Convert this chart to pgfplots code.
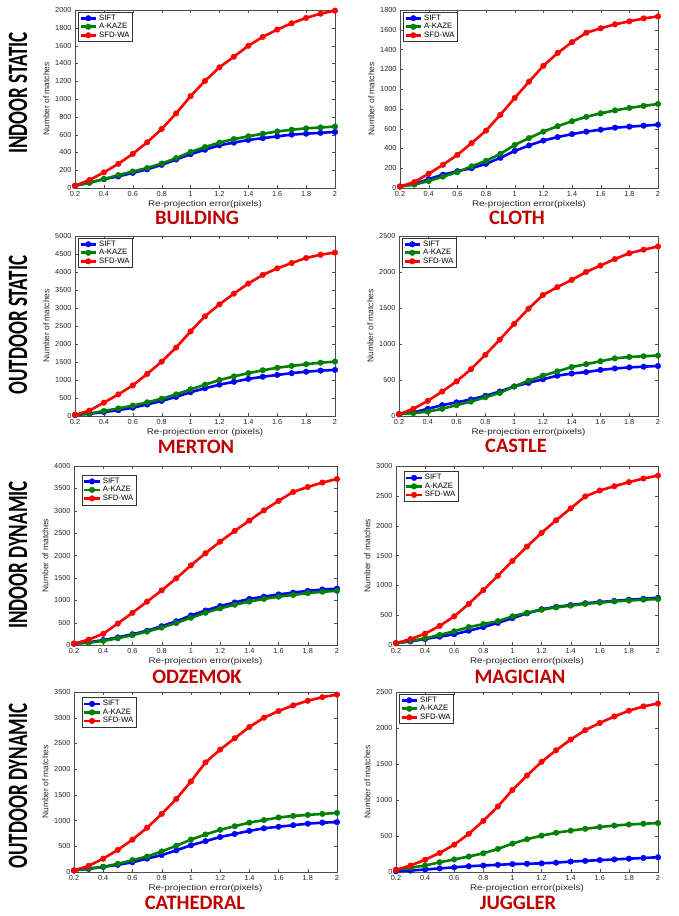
\documentclass[border=0pt]{standalone}
\usepackage{pgfplots}
\pgfplotsset{compat=1.18}
\usepackage{pgfplotstable}
\usepackage{fontspec}
\setmainfont{Liberation Sans}
\newfontfamily\titlefont{Carlito}
\definecolor{tred}{RGB}{192,0,0}
\definecolor{mblue}{RGB}{0,0,255}
\definecolor{mgreen}{RGB}{0,128,0}
\definecolor{mred}{RGB}{255,0,0}

\pgfplotstableread{
x sift akaze sfd
0.2 25 25 25
0.3 60 60 90
0.4 100 100 175
0.5 130 145 272
0.6 170 185 384
0.7 210 225 514
0.8 260 275 663
0.9 320 335 838
1.0 380 405 1032
1.1 430 460 1203
1.2 480 510 1356
1.3 510 550 1475
1.4 540 580 1598
1.5 560 610 1698
1.6 580 635 1780
1.7 600 655 1851
1.8 610 670 1911
1.9 620 680 1959
2.0 630 690 1993
}\building
\pgfplotstableread{
x sift akaze sfd
0.2 15 15 15
0.3 40 35 60
0.4 90 70 145
0.5 135 115 235
0.6 170 160 335
0.7 200 220 455
0.8 245 275 580
0.9 305 345 740
1.0 375 435 910
1.1 430 505 1075
1.2 480 570 1235
1.3 515 625 1365
1.4 545 675 1475
1.5 570 720 1570
1.6 590 755 1615
1.7 610 785 1655
1.8 620 810 1685
1.9 630 830 1715
2.0 640 850 1735
}\cloth
\pgfplotstableread{
x sift akaze sfd
0.2 30 30 30
0.3 60 70 150
0.4 110 140 370
0.5 160 210 600
0.6 230 290 850
0.7 320 380 1170
0.8 420 480 1510
0.9 530 600 1900
1.0 660 740 2350
1.1 770 870 2770
1.2 870 1000 3100
1.3 950 1100 3400
1.4 1030 1190 3680
1.5 1090 1270 3920
1.6 1140 1340 4100
1.7 1190 1390 4250
1.8 1230 1440 4390
1.9 1260 1480 4480
2.0 1280 1510 4540
}\merton
\pgfplotstableread{
x sift akaze sfd
0.2 25 25 25
0.3 50 40 100
0.4 100 60 210
0.5 150 100 340
0.6 190 150 480
0.7 230 200 650
0.8 280 260 850
0.9 340 320 1060
1.0 410 410 1280
1.1 460 490 1490
1.2 510 560 1680
1.3 560 620 1790
1.4 590 680 1890
1.5 610 720 2000
1.6 640 760 2090
1.7 660 800 2180
1.8 675 820 2260
1.9 685 830 2310
2.0 695 840 2355
}\castle
\pgfplotstableread{
x sift akaze sfd
0.2 30 30 30
0.3 60 50 120
0.4 110 90 250
0.5 170 150 480
0.6 240 220 720
0.7 320 300 970
0.8 420 390 1220
0.9 530 490 1490
1.0 660 610 1780
1.1 770 720 2050
1.2 870 820 2310
1.3 950 900 2550
1.4 1030 970 2780
1.5 1080 1030 3010
1.6 1130 1080 3220
1.7 1170 1120 3420
1.8 1210 1160 3530
1.9 1240 1190 3630
2.0 1260 1210 3710
}\odzemok
\pgfplotstableread{
x sift akaze sfd
0.2 30 30 30
0.3 60 70 100
0.4 100 110 190
0.5 140 170 320
0.6 180 230 480
0.7 240 300 690
0.8 300 350 920
0.9 370 400 1160
1.0 450 480 1410
1.1 530 540 1650
1.2 600 590 1880
1.3 640 630 2090
1.4 670 660 2290
1.5 700 690 2490
1.6 720 710 2590
1.7 740 730 2660
1.8 760 745 2730
1.9 775 760 2790
2.0 790 770 2840
}\magician
\pgfplotstableread{
x sift akaze sfd
0.2 30 30 30
0.3 60 70 120
0.4 100 100 260
0.5 140 160 430
0.6 190 230 630
0.7 260 300 860
0.8 330 400 1130
0.9 420 510 1420
1.0 520 630 1760
1.1 600 730 2130
1.2 680 820 2380
1.3 740 890 2600
1.4 800 960 2820
1.5 850 1010 3000
1.6 880 1060 3130
1.7 910 1090 3240
1.8 940 1110 3330
1.9 960 1130 3400
2.0 970 1150 3450
}\cathedral
\pgfplotstableread{
x sift akaze sfd
0.2 10 30 30
0.3 20 60 90
0.4 35 90 170
0.5 50 135 265
0.6 65 175 380
0.7 80 215 530
0.8 90 260 710
0.9 100 320 910
1.0 110 395 1140
1.1 115 455 1340
1.2 120 505 1530
1.3 130 545 1690
1.4 145 575 1840
1.5 155 600 1970
1.6 165 625 2070
1.7 175 645 2160
1.8 185 660 2240
1.9 195 670 2300
2.0 205 680 2340
}\juggler

\pgfplotsset{
  panel/.style={
    scale only axis, anchor=north west,
    xmin=0.2, xmax=2, ymin=0,
    xtick={0.2,0.4,0.6,0.8,1,1.2,1.4,1.6,1.8,2},
    tick label style={font=\fontsize{7.3}{8}\selectfont, text=black!85},
    /pgf/number format/assume math mode=true,
    /pgf/number format/1000 sep={},
    scaled y ticks=false,
    axis line style={black!70},
    tick style={black!70},
    major tick length=3pt,
    ylabel={Number of matches},
    ylabel style={font=\fontsize{8.4}{9}\selectfont, text=black!85, yshift=-1pt},
    xlabel style={font=\fontsize{8.2}{9}\selectfont, text=black!85, yshift=3pt},
    legend style={at={(0.012,0.99)}, anchor=north west, font=\fontsize{7.8}{8}\selectfont,
      inner sep=1pt, row sep=-2pt, draw=black!80,
      nodes={inner sep=1.8pt}},
    legend cell align=left,
    legend image code/.code={
      \draw[mark repeat=2,mark phase=2] plot coordinates {(0cm,0cm) (0.27cm,0cm) (0.54cm,0cm)};},
    cycle list={{mblue,mark=*},{mgreen,mark=*},{mred,mark=*}},
    every axis plot/.append style={line width=2.6pt, mark size=2.8pt, mark options={solid,line width=0.4pt}},
  },
  xl/.style={xlabel={\scalebox{1.2}[1]{Re-projection error(pixels)}}},
}

\newcommand{\rowlabel}[3]{\node[rotate=90] at (#1pt,-#2pt) {\scalebox{0.68}[1]{\titlefont\bfseries\fontsize{28pt}{28pt}\selectfont #3}};}
\newcommand{\paneltitle}[3]{\node at (#1pt,-#2pt) {\titlefont\bfseries\fontsize{20.5pt}{21pt}\selectfont\color{tred}#3};}

\begin{document}
\begin{tikzpicture}
\useasboundingbox (0,0) rectangle (678pt,-916pt);

% Row 1
\begin{axis}[panel, xl, at={(75pt,-10pt)}, width=260pt, height=178pt, ymax=2000, ytick={0,200,...,2000}]
\addplot table[x=x,y=sift]{\building};
\addplot table[x=x,y=akaze]{\building};
\addplot table[x=x,y=sfd]{\building};
\legend{SIFT,A-KAZE,SFD-WA}
\end{axis}
\begin{axis}[panel, xl, at={(400pt,-10pt)}, width=258pt, height=178pt, ymax=1800, ytick={0,200,...,1800}]
\addplot table[x=x,y=sift]{\cloth};
\addplot table[x=x,y=akaze]{\cloth};
\addplot table[x=x,y=sfd]{\cloth};
\legend{SIFT,A-KAZE,SFD-WA}
\end{axis}

% Row 2
\begin{axis}[panel, xlabel={\scalebox{1.2}[1]{Re-projection error (pixels)}}, at={(75pt,-236pt)}, width=260pt, height=180pt, ymax=5000, ytick={0,500,...,5000}]
\addplot table[x=x,y=sift]{\merton};
\addplot table[x=x,y=akaze]{\merton};
\addplot table[x=x,y=sfd]{\merton};
\legend{SIFT,A-KAZE,SFD-WA}
\end{axis}
\begin{axis}[panel, xl, at={(399pt,-236pt)}, width=259pt, height=180pt, ymax=2500, ytick={0,500,...,2500}]
\addplot table[x=x,y=sift]{\castle};
\addplot table[x=x,y=akaze]{\castle};
\addplot table[x=x,y=sfd]{\castle};
\legend{SIFT,A-KAZE,SFD-WA}
\end{axis}

% Row 3
\begin{axis}[panel, xl, at={(74pt,-466pt)}, width=263pt, height=179pt, ymax=4000, ytick={0,500,...,4000},
  legend style={at={(0.03,0.95)}}]
\addplot table[x=x,y=sift]{\odzemok};
\addplot table[x=x,y=akaze]{\odzemok};
\addplot table[x=x,y=sfd]{\odzemok};
\legend{SIFT,A-KAZE,SFD-WA}
\end{axis}
\begin{axis}[panel, xl, at={(396pt,-466pt)}, width=262pt, height=179pt, ymax=3000, ytick={0,500,...,3000},
  legend style={at={(0.03,0.97)}}]
\addplot table[x=x,y=sift]{\magician};
\addplot table[x=x,y=akaze]{\magician};
\addplot table[x=x,y=sfd]{\magician};
\legend{SIFT,A-KAZE,SFD-WA}
\end{axis}

% Row 4
\begin{axis}[panel, xl, at={(74pt,-692pt)}, width=263pt, height=180pt, ymax=3500, ytick={0,500,...,3500},
  legend style={at={(0.03,0.97)}}]
\addplot table[x=x,y=sift]{\cathedral};
\addplot table[x=x,y=akaze]{\cathedral};
\addplot table[x=x,y=sfd]{\cathedral};
\legend{SIFT,A-KAZE,SFD-WA}
\end{axis}
\begin{axis}[panel, xl, at={(396pt,-692pt)}, width=262pt, height=180pt, ymax=2500, ytick={0,500,...,2500}]
\addplot table[x=x,y=sift]{\juggler};
\addplot table[x=x,y=akaze]{\juggler};
\addplot table[x=x,y=sfd]{\juggler};
\legend{SIFT,A-KAZE,SFD-WA}
\end{axis}

% Row labels
\rowlabel{18}{93}{INDOOR STATIC}
\rowlabel{18}{325}{OUTDOOR STATIC}
\rowlabel{18}{555}{INDOOR DYNAMIC}
\rowlabel{18}{786}{OUTDOOR DYNAMIC}

% Panel titles
\paneltitle{197}{218}{BUILDING}
\paneltitle{517}{218}{CLOTH}
\paneltitle{196}{447}{MERTON}
\paneltitle{516}{446}{CASTLE}
\paneltitle{197}{677}{ODZEMOK}
\paneltitle{520}{677}{MAGICIAN}
\paneltitle{195}{903}{CATHEDRAL}
\paneltitle{518}{903}{JUGGLER}
\end{tikzpicture}
\end{document}
